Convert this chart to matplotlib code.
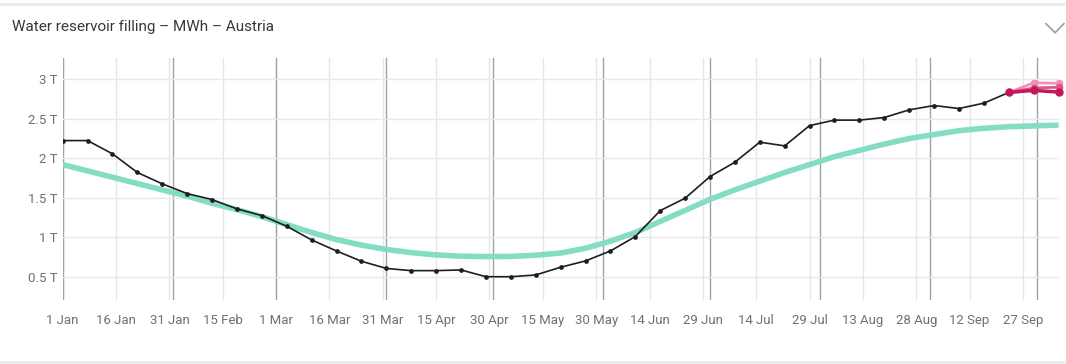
import matplotlib
matplotlib.use("Agg")
import matplotlib.pyplot as plt
from matplotlib.lines import Line2D
import pandas as pd

# weekly reservoir filling, TWh (shown as "T" on the axis)
filling_dates = pd.date_range("2024-01-01", periods=39, freq="7D")
filling = [2.224, 2.224, 2.056, 1.82, 1.676, 1.553, 1.477, 1.359, 1.274, 1.139,
           0.966, 0.826, 0.696, 0.605, 0.577, 0.577, 0.586, 0.50, 0.50, 0.522,
           0.62, 0.70, 0.826, 1.008, 1.337, 1.494, 1.768, 1.95, 2.204, 2.157,
           2.414, 2.483, 2.483, 2.516, 2.613, 2.668, 2.63, 2.698, 2.833]

# forecast scenarios from the last observation
fc_dates = pd.to_datetime(["2024-09-23", "2024-09-30", "2024-10-07"])
fc_high = [2.833, 2.955, 2.95]
fc_mid = [2.833, 2.89, 2.90]
fc_low = [2.833, 2.86, 2.838]

# long-term average, weekly
avg_dates = pd.date_range("2024-01-01", periods=41, freq="7D")
avg = [1.92, 1.84, 1.76, 1.68, 1.60, 1.52, 1.43, 1.35, 1.26, 1.16,
       1.06, 0.97, 0.90, 0.845, 0.805, 0.776, 0.76, 0.755, 0.757, 0.772,
       0.80, 0.86, 0.95, 1.06, 1.20, 1.34, 1.48, 1.60, 1.71, 1.82,
       1.92, 2.02, 2.10, 2.18, 2.25, 2.30, 2.35, 2.38, 2.40, 2.41, 2.42]

y_ticks = [0.5, 1, 1.5, 2, 2.5, 3]
y_labels = ["0.5 T", "1 T", "1.5 T", "2 T", "2.5 T", "3 T"]

FONT = ["Roboto", "DejaVu Sans"]

fig = plt.figure(figsize=(10.66, 3.64), dpi=100)
fig.patch.set_facecolor("white")
ax = fig.add_axes([0.0588, 0.1758, 0.9342, 0.6649])

# 15-day ticks with light grid, month starts with darker lines
ticks = pd.date_range("2024-01-01", "2024-10-07", freq="15D")
ax.set_xticks(ticks)
ax.set_xticklabels([f"{t.day} {t.strftime('%b')}" for t in ticks])
for t in ticks:
    ax.axvline(t, color="#e3e6ea", lw=1.0, zorder=0)
for m in pd.date_range("2024-01-01", "2024-10-07", freq="MS"):
    ax.axvline(m, color="#9ea3a8", lw=1.0, zorder=0)
ax.set_yticks(y_ticks)
ax.set_yticklabels(y_labels)
for y in y_ticks:
    ax.axhline(y, color="#e6e8ec", lw=1.0, zorder=0)

ax.plot(avg_dates, avg, color="#84dcc5", lw=4.0, solid_capstyle="butt",
        solid_joinstyle="round", zorder=2)
ax.plot(filling_dates, filling, color="#1e1e1e", lw=1.2, marker="o", ms=2.4, zorder=3)
ax.plot(fc_dates, fc_high, color="#f48fb1", lw=2.0, marker="o", ms=4.5, zorder=4, clip_on=False)
ax.plot(fc_dates, fc_mid, color="#e0568a", lw=2.0, marker="o", ms=4.5, zorder=4, clip_on=False)
ax.plot(fc_dates, fc_low, color="#c2185b", lw=2.5, marker="o", ms=5, zorder=5, clip_on=False)

ax.set_xlim(pd.Timestamp("2024-01-01"), pd.Timestamp("2024-10-07"))
ax.set_ylim(0.205, 3.27)
for sp in ax.spines.values():
    sp.set_visible(False)
ax.tick_params(axis="both", length=0, colors="#707070", labelsize=9.5)
ax.tick_params(axis="x", pad=10)
ax.tick_params(axis="y", pad=4)
for lab in ax.get_xticklabels() + ax.get_yticklabels():
    lab.set_family(FONT)

fig.text(0.0113, 0.925, "Water reservoir filling \u2013 MWh \u2013 Austria",
         fontsize=11, color="#333a40", family=FONT, va="center", ha="left")

# card borders and collapse chevron
fig.add_artist(Line2D([0, 1], [0.99, 0.99], color="#e8ecef", lw=2.0))
fig.add_artist(Line2D([0, 1], [0.006, 0.006], color="#e8ecef", lw=2.0))
fig.add_artist(Line2D([0.9812, 0.9897, 0.9981], [0.935, 0.910, 0.935],
                      color="#9a9ea3", lw=1.2))

fig.savefig("out.png", dpi=100, facecolor="white")
